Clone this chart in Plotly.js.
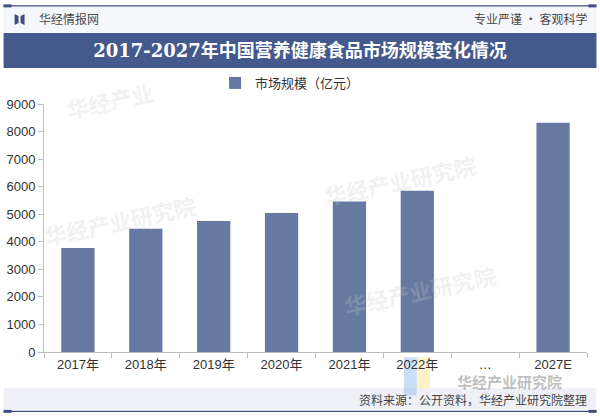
<!DOCTYPE html>
<html>
<head>
<meta charset="utf-8">
<script src="https://cdn.plot.ly/plotly-3.0.1.min.js"></script>
<style>
html,body{margin:0;padding:0;background:#fff;}
#chart{width:600px;height:420px;}
</style>
</head>
<body>
<div id="chart"></div>
<script>
// ---- data ----
const categories = ['2017年','2018年','2019年','2020年','2021年','2022年','…','2027E'];
const marketSize = [3770, 4470, 4750, 5040, 5460, 5850, null, 8320];
const seriesName = '市场规模（亿元）';
const chartTitle = '2017-2027年中国营养健康食品市场规模变化情况';
const brandLeft = '华经情报网';
const brandRight = '专业严谨 • 客观科学';
const sourceText = '资料来源：公开资料，华经产业研究院整理';
const yTicks = [0,1000,2000,3000,4000,5000,6000,7000,8000,9000];

// ---- layout helpers (pixel -> paper) ----
const W = 600, H = 420;
const M = {l: 43.5, r: 12.5, t: 104, b: 68.3};
const pw = W - M.l - M.r, ph = H - M.t - M.b;
const px = x => (x - M.l) / pw;
const py = y => (H - M.b - y) / ph;

const dark = '#3d4f80';
const band = '#44598c';
const barColor = '#667aa1';
const font = 'Arial, "Liberation Sans", "Noto Sans CJK SC", sans-serif';
const cjk = '"Noto Sans CJK SC", sans-serif';

const rect = (x0,y0,x1,y1,fill,extra) => Object.assign({type:'rect',xref:'paper',yref:'paper',
  x0:px(x0),x1:px(x1),y0:py(y0),y1:py(y1),fillcolor:fill,line:{width:0},layer:'below'},extra||{});

const shapes = [
  rect(3,7,597,33,'#f6f7fa'),
  {type:'line',xref:'paper',yref:'paper',x0:px(3),x1:px(597),y0:py(6),y1:py(6),line:{color:dark,width:1.2},layer:'below'},
  rect(3,4.5,11,7.5,dark),
  rect(589,4.5,597,7.5,dark),
  rect(3,33,597,68,band),
  rect(3,388,597,409,'#eef0f6'),
  {type:'line',xref:'paper',yref:'paper',x0:px(3),x1:px(597),y0:py(411),y1:py(411),line:{color:dark,width:1.2},layer:'below'},
  rect(3,409.5,11,412.5,dark),
  rect(589,409.5,597,412.5,dark),
  // logo icon
  {type:'path',xref:'paper',yref:'paper',layer:'above',fillcolor:'#3d5080',line:{width:0},
   path:`M ${px(14)} ${py(14)} L ${px(18)} ${py(16)} L ${px(18)} ${py(23)} L ${px(14)} ${py(25)} Z`},
  {type:'path',xref:'paper',yref:'paper',layer:'above',fillcolor:'#3d5080',line:{width:0},
   path:`M ${px(24)} ${py(14)} L ${px(20)} ${py(16)} L ${px(20)} ${py(23)} L ${px(24)} ${py(25)} Z`},
  // watermark logo blocks (bottom right)
  rect(404,357,417,395,'rgba(150,190,240,0.5)',{layer:'below'}),
  rect(417,357,430,388,'rgba(250,230,150,0.5)',{layer:'below'})
];

const annotations = [
  {xref:'paper',yref:'paper',x:px(36),y:py(19),xanchor:'left',yanchor:'middle',showarrow:false,
   text:brandLeft,font:{family:cjk,size:12,color:'#4a4a4a'}},
  {xref:'paper',yref:'paper',x:px(590),y:py(19),xanchor:'right',yanchor:'middle',showarrow:false,
   text:brandRight,font:{family:cjk,size:12,color:'#4a4a4a'}},
  {xref:'paper',yref:'paper',x:px(590),y:py(399),xanchor:'right',yanchor:'middle',showarrow:false,
   text:sourceText,font:{family:cjk,size:12,color:'#444'}},
  // watermarks
  {xref:'paper',yref:'paper',x:px(510),y:py(381),xanchor:'center',yanchor:'middle',showarrow:false,
   text:'<b>华经产业研究院</b>',font:{family:cjk,size:15,color:'rgba(170,170,170,0.75)'}},
  {xref:'paper',yref:'paper',x:px(110),y:py(100),xanchor:'center',yanchor:'middle',showarrow:false,textangle:-12,
   text:'<b>华经产业</b>',font:{family:cjk,size:22,color:'rgba(200,200,200,0.25)'}},
  {xref:'paper',yref:'paper',x:px(400),y:py(180),xanchor:'center',yanchor:'middle',showarrow:false,textangle:-12,
   text:'<b>华经产业研究院</b>',font:{family:cjk,size:22,color:'rgba(200,200,200,0.25)'}},
  {xref:'paper',yref:'paper',x:px(120),y:py(220),xanchor:'center',yanchor:'middle',showarrow:false,textangle:-12,
   text:'<b>华经产业研究院</b>',font:{family:cjk,size:22,color:'rgba(200,200,200,0.25)'}},
  {xref:'paper',yref:'paper',x:px(420),y:py(290),xanchor:'center',yanchor:'middle',showarrow:false,textangle:-12,
   text:'<b>华经产业研究院</b>',font:{family:cjk,size:22,color:'rgba(200,200,200,0.25)'}}
];

const trace = {
  type:'bar', x:categories, y:marketSize, name:seriesName,
  marker:{color:barColor}, width:0.49, showlegend:true,
  hoverinfo:'x+y'
};

const layout = {
  width:W, height:H,
  margin:{l:M.l, r:M.r, t:M.t, b:M.b, pad:0},
  paper_bgcolor:'#ffffff', plot_bgcolor:'rgba(0,0,0,0)',
  title:{text:'<b>'+chartTitle+'</b>', x:0.5, xanchor:'center', xref:'container',
         y:1-50.5/H, yref:'container', yanchor:'middle',
         font:{family:'"DejaVu Serif","Liberation Serif","Noto Sans CJK SC",serif', size:18, color:'#ffffff'}},
  font:{family:font, color:'#333'},
  showlegend:true,
  legend:{orientation:'h', x:px(290), xanchor:'center', y:py(83), yanchor:'middle',
          font:{family:cjk, size:13, color:'#333'}, itemwidth:30, bgcolor:'rgba(0,0,0,0)'},
  bargap:0.51,
  xaxis:{type:'category', showline:true, linecolor:'#bfbfbf', linewidth:1, ticks:'outside',
         tickson:'boundaries', ticklen:5, tickcolor:'#bfbfbf', showgrid:false, zeroline:false,
         tickfont:{family:font, size:13, color:'#333'}, fixedrange:true},
  yaxis:{range:[0,9000], tickvals:yTicks, showline:true, linecolor:'#bfbfbf', linewidth:1,
         ticks:'outside', ticklen:5, tickcolor:'#bfbfbf', showgrid:false, zeroline:false,
         tickfont:{family:font, size:13, color:'#333'}, fixedrange:true},
  shapes:shapes,
  annotations:annotations
};

Plotly.newPlot('chart', [trace], layout, {displayModeBar:false, staticPlot:true});
</script>
</body>
</html>
